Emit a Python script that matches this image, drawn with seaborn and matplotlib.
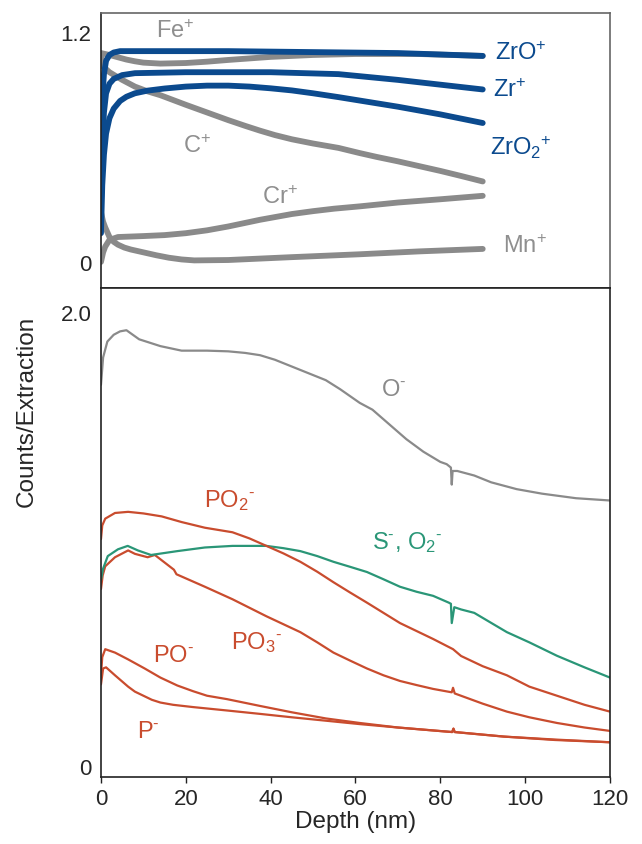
import matplotlib

matplotlib.use("Agg")
import matplotlib.pyplot as plt
import seaborn as sns

# --- top panel: positive ions (depth in nm, counts/extraction) ---
zro_x = [0, 0.3, 0.7, 1.2, 2, 3, 4.5, 10, 30, 50, 70, 90]
zro_y = [0.6, 0.85, 0.98, 1.05, 1.08, 1.093, 1.1, 1.1, 1.1, 1.095, 1.09, 1.075]

zr_x = [0, 0.3, 0.7, 1.2, 2, 3, 5, 8, 20, 40, 56, 63, 70, 80, 90]
zr_y = [0.3, 0.6, 0.78, 0.88, 0.93, 0.955, 0.975, 0.985, 0.99, 0.99, 0.98, 0.965,
        0.95, 0.925, 0.90]

zro2_x = [0, 0.3, 0.7, 1.2, 2, 3, 4.5, 6, 8, 11, 15, 20, 25, 30, 35, 40, 45, 50,
          56, 63, 70, 80, 90]
zro2_y = [0.15, 0.4, 0.56, 0.67, 0.75, 0.8, 0.84, 0.862, 0.88, 0.894, 0.905, 0.915,
          0.92, 0.92, 0.915, 0.906, 0.895, 0.88, 0.86, 0.835, 0.81, 0.77, 0.725]

fe_x = [0, 2, 4, 6, 8, 10, 14, 20, 25, 30, 35, 40, 50, 60, 75, 90]
fe_y = [1.09, 1.08, 1.068, 1.056, 1.047, 1.04, 1.035, 1.038, 1.045, 1.054, 1.062,
        1.07, 1.08, 1.085, 1.085, 1.075]

c_x = [0, 0.5, 2, 5, 8, 11, 14, 17, 20, 25, 30, 34, 37.5, 41, 45, 50, 56, 61, 65,
       70, 75, 80, 85, 90]
c_y = [1.08, 1.02, 0.99, 0.95, 0.915, 0.89, 0.87, 0.845, 0.82, 0.78, 0.74, 0.71,
       0.685, 0.662, 0.64, 0.618, 0.595, 0.568, 0.548, 0.525, 0.5, 0.475, 0.448, 0.42]

cr_x = [0, 0.5, 1, 2, 4, 10, 15, 20, 25, 30, 37.5, 45, 50, 55, 61, 70, 80, 90]
cr_y = [0.0, 0.05, 0.08, 0.115, 0.13, 0.135, 0.14, 0.15, 0.165, 0.185, 0.22, 0.25,
        0.265, 0.278, 0.29, 0.31, 0.327, 0.345]

mn_x = [0, 0.5, 1, 2, 3, 4, 5.5, 7, 10, 13, 16, 19, 22, 30, 45, 61, 75, 90]
mn_y = [0.26, 0.21, 0.18, 0.13, 0.105, 0.09, 0.075, 0.065, 0.05, 0.035, 0.022, 0.013,
        0.008, 0.01, 0.025, 0.04, 0.055, 0.068]

# --- bottom panel: negative ions ---
o_x = [0, 0.5, 1.5, 3, 4.5, 6, 9, 14, 19, 25, 30, 34, 37.5, 41, 45, 49, 53, 56.4,
       61, 64, 68, 72, 76, 80, 81.5, 82.5, 82.7, 82.9, 84, 88, 92, 98, 104, 112, 120]
o_y = [1.68, 1.80, 1.87, 1.90, 1.915, 1.92, 1.88, 1.85, 1.83, 1.83, 1.827, 1.82,
       1.81, 1.79, 1.76, 1.73, 1.70, 1.66, 1.60, 1.57, 1.505, 1.44, 1.385, 1.34, 1.33,
       1.315, 1.24, 1.30, 1.30, 1.28, 1.25, 1.22, 1.20, 1.18, 1.17]

so2_x = [0, 0.5, 1.6, 4, 6.3, 8.7, 11.8, 18, 24.5, 31, 39, 43, 47, 51, 54.8, 58.7,
         62.7, 66.6, 70.5, 74.4, 78.3, 82, 82.5, 82.7, 83.3, 84.9, 88, 91.8, 95.7,
         101, 107.5, 114, 120]
so2_y = [0.82, 0.87, 0.925, 0.955, 0.97, 0.95, 0.93, 0.947, 0.963, 0.97, 0.97, 0.96,
         0.947, 0.925, 0.90, 0.878, 0.855, 0.823, 0.79, 0.768, 0.75, 0.72, 0.715, 0.63,
         0.70, 0.69, 0.675, 0.633, 0.59, 0.545, 0.486, 0.435, 0.39]

po2_x = [0, 0.3, 1, 3.3, 6.4, 10, 14.3, 19, 24.5, 31, 35, 39, 43, 47, 51, 54.8, 58.7,
         62.7, 66.6, 70.5, 74.4, 78.3, 83, 84.9, 90, 95.7, 101, 107.5, 114, 120]
po2_y = [1.00, 1.06, 1.09, 1.115, 1.12, 1.113, 1.10, 1.075, 1.05, 1.03, 1.003, 0.97,
         0.937, 0.90, 0.856, 0.81, 0.765, 0.72, 0.675, 0.63, 0.595, 0.56, 0.515, 0.485,
         0.44, 0.40, 0.35, 0.31, 0.27, 0.24]

po3_x = [0, 0.4, 1.0, 3.3, 6.4, 8, 11, 12.7, 17.2, 17.8, 24.5, 31, 39, 47, 51, 54.8,
         58.7, 62.7, 66.6, 70.5, 74.4, 78.3, 82.7, 83, 83.4, 90, 95.7, 101, 107.5, 114,
         120]
po3_y = [0.78, 0.84, 0.88, 0.92, 0.95, 0.935, 0.92, 0.93, 0.865, 0.845, 0.79, 0.735,
         0.66, 0.59, 0.545, 0.50, 0.465, 0.43, 0.4, 0.375, 0.357, 0.34, 0.325, 0.345,
         0.32, 0.275, 0.24, 0.215, 0.19, 0.17, 0.155]

po_x = [0, 0.3, 1.0, 3.3, 6.4, 10.3, 14, 18, 21.7, 25, 29.7, 37.5, 45, 53, 61, 70,
        82.8, 83.1, 83.4, 95, 107, 120]
po_y = [0.40, 0.48, 0.515, 0.50, 0.47, 0.43, 0.39, 0.355, 0.33, 0.31, 0.295, 0.265,
        0.237, 0.21, 0.19, 0.17, 0.15, 0.165, 0.15, 0.13, 0.117, 0.105]

p_x = [0, 0.5, 1.2, 3.3, 6.4, 8, 10, 12, 14, 17, 21.7, 29.7, 37.5, 45, 53, 61, 70,
       82.8, 83.1, 83.4, 95, 107, 120]
p_y = [0.36, 0.43, 0.435, 0.40, 0.35, 0.328, 0.31, 0.292, 0.28, 0.27, 0.26, 0.245,
       0.23, 0.215, 0.20, 0.185, 0.17, 0.15, 0.165, 0.15, 0.13, 0.115, 0.105]

x_ticks = [0, 20, 40, 60, 80, 100, 120]

BLUE = "#0b4a8e"
GRAY = "#8a8a8a"
RED = "#c94c2e"
GREEN = "#2a9677"

sns.set_theme(style="white")
plt.rcParams["font.family"] = ["Liberation Sans", "DejaVu Sans"]
plt.rcParams["mathtext.fontset"] = "custom"
plt.rcParams["mathtext.rm"] = "Liberation Sans"
plt.rcParams["mathtext.it"] = "Liberation Sans:italic"
plt.rcParams["mathtext.bf"] = "Liberation Sans:bold"

fig = plt.figure(figsize=(6.42, 8.45), dpi=100)
ax_top = fig.add_axes([0.1573, 0.65799, 0.7928, 0.32544])
ax_bot = fig.add_axes([0.1573, 0.07929, 0.7928, 0.5787])

# top panel lines (thick)
top_series = [
    (cr_x, cr_y, GRAY),
    (mn_x, mn_y, GRAY),
    (c_x, c_y, GRAY),
    (fe_x, fe_y, GRAY),
    (zro2_x, zro2_y, BLUE),
    (zr_x, zr_y, BLUE),
    (zro_x, zro_y, BLUE),
]
for xs, ys, col in top_series:
    sns.lineplot(x=xs, y=ys, ax=ax_top, color=col, linewidth=4.2,
                 estimator=None, solid_capstyle="round", solid_joinstyle="round")

bot_series = [
    (o_x, o_y, GRAY),
    (p_x, p_y, RED),
    (po_x, po_y, RED),
    (po3_x, po3_y, RED),
    (so2_x, so2_y, GREEN),
    (po2_x, po2_y, RED),
]
for xs, ys, col in bot_series:
    sns.lineplot(x=xs, y=ys, ax=ax_bot, color=col, linewidth=1.6, estimator=None)

for ax in (ax_top, ax_bot):
    ax.set_xlim(0, 120)
    for sp in ax.spines.values():
        sp.set_color("#222222")
        sp.set_linewidth(1.2)
    ax.set_xlabel("")
    ax.set_ylabel("")

ax_top.spines["top"].set_color("#666666")
ax_top.spines["right"].set_color("#666666")

ax_top.set_ylim(-0.136, 1.299)
ax_top.set_yticks([0, 1.2])
ax_top.set_yticklabels(["0", "1.2"])
ax_top.set_xticks([])
ax_top.tick_params(axis="y", length=0, pad=7, labelsize=16)

ax_bot.set_ylim(-0.048, 2.106)
ax_bot.set_yticks([0, 2.0])
ax_bot.set_yticklabels(["0", "2.0"])
ax_bot.set_xticks(x_ticks)
ax_bot.tick_params(axis="y", length=0, pad=7, labelsize=16)
ax_bot.tick_params(axis="x", length=4, width=1, direction="out", pad=4,
                   labelsize=16, bottom=True, color="#222222")
ax_bot.set_xlabel("Depth (nm)", fontsize=17.5, labelpad=1)

fig.text(27 / 642, 1 - 411 / 845, "Counts/Extraction", rotation=90,
         ha="center", va="center", fontsize=17.5)

LBL = 17
TGRAY = "#8f8f8f"
M = r"\text{-}"
ax_top.text(17.5, 1.205, "Fe$^{+}$", color=TGRAY, fontsize=LBL, ha="center", va="center")
ax_top.text(93, 1.095, "ZrO$^{+}$", color=BLUE, fontsize=LBL, ha="left", va="center")
ax_top.text(92.5, 0.90, "Zr$^{+}$", color=BLUE, fontsize=LBL, ha="left", va="center")
ax_top.text(91.7, 0.60, "ZrO$_2{}^{+}$", color=BLUE, fontsize=LBL, ha="left", va="center")
ax_top.text(22.6, 0.605, "C$^{+}$", color=TGRAY, fontsize=LBL, ha="center", va="center")
ax_top.text(42.2, 0.34, "Cr$^{+}$", color=TGRAY, fontsize=LBL, ha="center", va="center")
ax_top.text(94.8, 0.083, "Mn$^{+}$", color=TGRAY, fontsize=LBL, ha="left", va="center")

ax_bot.text(68.9, 1.66, "O$^{" + M + "}$", color=GRAY, fontsize=LBL,
            ha="center", va="center")
ax_bot.text(30.4, 1.176, "PO$_2{}^{" + M + "}$", color=RED, fontsize=LBL,
            ha="center", va="center")
ax_bot.text(72.2, 0.987, "S$^{" + M + "}$, O$_2{}^{" + M + "}$", color=GREEN,
            fontsize=LBL, ha="center", va="center")
ax_bot.text(36.8, 0.55, "PO$_3{}^{" + M + "}$", color=RED, fontsize=LBL,
            ha="center", va="center")
ax_bot.text(17, 0.49, "PO$^{" + M + "}$", color=RED, fontsize=LBL,
            ha="center", va="center")
ax_bot.text(11.1, 0.154, "P$^{" + M + "}$", color=RED, fontsize=LBL,
            ha="center", va="center")

fig.savefig("out.png", dpi=100)
